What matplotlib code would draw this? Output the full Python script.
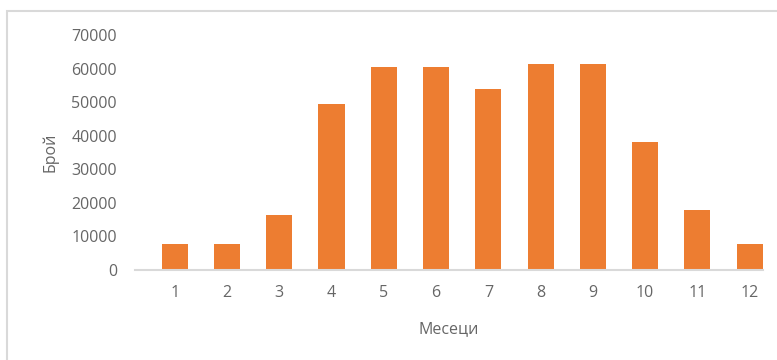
import matplotlib
matplotlib.use("Agg")
import matplotlib.pyplot as plt
from matplotlib.patches import Rectangle

months = [1, 2, 3, 4, 5, 6, 7, 8, 9, 10, 11, 12]
counts = [7700, 7600, 16400, 49500, 60400, 60400, 53800, 61500, 61500, 38000, 17900, 7600]
yticks = [0, 10000, 20000, 30000, 40000, 50000, 60000, 70000]
x_label = "Месеци"
y_label = "Брой"

plt.rcParams['font.family'] = ['Open Sans', 'DejaVu Sans']
W, H = 777, 360
fig = plt.figure(figsize=(W / 100, H / 100), dpi=100)
fig.patch.set_facecolor("white")

# outer chart frame (cropped at right/bottom)
fig.patches.append(Rectangle((7 / W, -0.05), 1.0, (H - 11) / H + 0.05,
                             transform=fig.transFigure, fill=False,
                             edgecolor="#d9d9d9", linewidth=1.5))

ax = fig.add_axes([135 / W, 90 / H, 628 / W, 235 / H])
ax.bar(months, counts, width=0.5, color="#ED7D31")
ax.set_xlim(0.24, 12.255)
ax.set_ylim(0, 70000)
ax.set_yticks(yticks)
ax.set_yticklabels([str(v) for v in yticks])
ax.set_xticks(months)
ax.set_xticklabels([str(m) for m in months])
for s in ["top", "right", "left"]:
    ax.spines[s].set_visible(False)
ax.spines["bottom"].set_color("#d9d9d9")
ax.spines["bottom"].set_linewidth(1.5)
ax.tick_params(axis="both", length=0, colors="#666666", labelsize=11.5)
ax.tick_params(axis="y", pad=13)
ax.tick_params(axis="x", pad=11)
ax.set_xlabel(x_label, color="#666666", fontsize=11.5, labelpad=14)
ax.set_ylabel(y_label, color="#666666", fontsize=11.5, labelpad=9)
ax.set_facecolor("white")

fig.savefig("out.png", dpi=100, facecolor="white")
